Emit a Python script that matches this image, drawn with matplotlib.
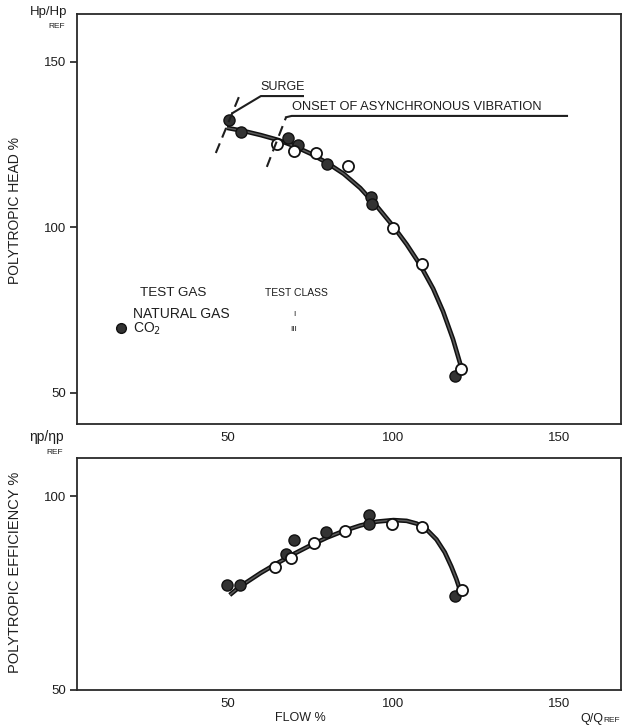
import matplotlib
matplotlib.use("Agg")
import matplotlib.pyplot as plt

plt.rcParams['font.family'] = ['Liberation Sans', 'DejaVu Sans']

# ---------------- data ----------------
x_ticks = [50, 100, 150]
head_ticks = [50, 100, 150]
eff_ticks = [50, 100]

# polytropic head: fitted curve
head_curve_flow = [49.7, 55, 60, 65, 70, 75, 80, 85, 90, 95, 100, 104, 108, 112, 115, 118, 120.7]
head_curve_val = [130.1, 129.1, 127.9, 126.5, 124.6, 122.3, 119.5, 116.2, 111.9, 106.4,
                  100.3, 94.9, 88.8, 81.5, 74.6, 66.2, 57.0]
# CO2 (filled)
head_co2_flow = [50.3, 53.9, 68.1, 71.1, 79.9, 93.2, 93.5, 118.6]
head_co2_val = [132.5, 128.9, 127.0, 124.9, 119.2, 109.2, 107.1, 55.1]
# natural gas (open)
head_ng_flow = [64.8, 69.9, 76.6, 86.3, 100.0, 108.5, 120.4]
head_ng_val = [125.2, 123.1, 122.5, 118.6, 99.8, 89.0, 57.3]

# polytropic efficiency: fitted curve
eff_curve_flow = [50.6, 53.6, 60, 65, 70, 75, 80, 85, 90, 95, 100, 104, 107, 110, 113,
                  115.5, 117.5, 119, 120.1]
eff_curve_val = [74.5, 76.6, 80.2, 82.7, 85.1, 87.3, 89.3, 91.0, 92.4, 93.4, 93.8, 93.6,
                 92.9, 91.4, 88.8, 85.5, 81.8, 78.6, 75.8]
eff_co2_flow = [49.7, 53.6, 67.5, 69.9, 79.6, 92.6, 92.6, 118.6]
eff_co2_val = [77.1, 77.1, 85.0, 88.7, 90.6, 95.0, 92.8, 74.3]
eff_ng_flow = [64.4, 69.2, 76.0, 85.5, 99.5, 108.6, 120.7]
eff_ng_val = [81.7, 84.1, 87.8, 91.1, 92.8, 91.9, 75.8]

# annotation guide lines (data coords)
surge_dash_x = [46.4, 53.6]
surge_dash_y = [122.5, 140.0]
surge_lead_x = [51.5, 60.0, 72.7]
surge_lead_y = [134.6, 139.7, 139.7]
onset_dash_x = [61.8, 67.6]
onset_dash_y = [118.3, 133.3]
onset_lead_x = [67.6, 69.3, 152.4]
onset_lead_y = [133.3, 133.7, 133.7]

# ---------------- figure ----------------
W, H = 624, 726
fig = plt.figure(figsize=(W / 100, H / 100), dpi=100)
fig.patch.set_facecolor('white')

def ax_rect(l, t, r, b):
    return [l / W, 1 - b / H, (r - l) / W, (b - t) / H]

def px(x, y):
    return x / W, 1 - y / H

ax1 = fig.add_axes(ax_rect(77, 14, 621, 424))
ax2 = fig.add_axes(ax_rect(77, 458, 621, 690))

ink = '#1e1e1e'
for ax in (ax1, ax2):
    ax.set_xlim(4.5, 168.7)
    for s in ax.spines.values():
        s.set_color('#2a2a2a')
        s.set_linewidth(1.3)
    ax.set_xticks(x_ticks)
    ax.tick_params(axis='x', length=0, pad=6, labelsize=9.5, colors=ink)
    ax.tick_params(axis='y', length=5, width=1.2, direction='out', pad=3,
                   labelsize=9.5, colors=ink)

ax1.set_ylim(40.6, 164.5)
ax1.set_yticks(head_ticks)
ax2.set_ylim(50, 109.8)
ax2.set_yticks(eff_ticks)

ms = 8.0
def draw(ax, cx, cy, fx, fy, ox, oy):
    ax.plot(cx, cy, color='#111111', lw=3.3, solid_capstyle='butt',
            solid_joinstyle='round', zorder=2)
    ax.plot(cx, cy, color='#5a5a5a', lw=1.1, solid_capstyle='butt',
            solid_joinstyle='round', zorder=2.1)
    ax.plot(fx, fy, 'o', ms=ms, mfc='#333333', mec='#111111', mew=1.0, zorder=3)
    ax.plot(ox, oy, 'o', ms=ms, mfc='white', mec='#111111', mew=1.3, zorder=4)

draw(ax1, head_curve_flow, head_curve_val, head_co2_flow, head_co2_val, head_ng_flow, head_ng_val)
draw(ax2, eff_curve_flow, eff_curve_val, eff_co2_flow, eff_co2_val, eff_ng_flow, eff_ng_val)

# annotations
ax1.plot(surge_dash_x, surge_dash_y, color=ink, lw=1.5, ls=(0, (5, 3)), zorder=5)
ax1.plot(surge_lead_x, surge_lead_y, color=ink, lw=1.5, zorder=5)
ax1.plot(onset_dash_x, onset_dash_y, color=ink, lw=1.5, ls=(0, (5, 3)), zorder=5)
ax1.plot(onset_lead_x, onset_lead_y, color=ink, lw=1.5, zorder=5)
ax1.text(surge_lead_x[1], surge_lead_y[1] + 0.8, 'SURGE', fontsize=9, color=ink,
         ha='left', va='bottom')
ax1.text(onset_lead_x[1], onset_lead_y[1] + 0.8, 'ONSET OF ASYNCHRONOUS VIBRATION',
         fontsize=9.3, color=ink, ha='left', va='bottom')

# legend block
fig.text(*px(140, 293), 'TEST GAS', fontsize=9.7, color=ink, ha='left', va='center')
fig.text(*px(265, 293), 'TEST CLASS', fontsize=7.5, color=ink, ha='left', va='center')
fig.text(*px(133, 314), 'NATURAL GAS', fontsize=10, color=ink, ha='left', va='center')
fig.text(*px(294, 314), 'I', fontsize=6, color=ink, ha='center', va='center')
fig.text(*px(133, 329), 'CO$_2$', fontsize=10, color=ink, ha='left', va='center')
fig.text(*px(294, 329), 'III', fontsize=6, color=ink, ha='center', va='center')
ax1.plot([px(121, 328)[0]], [px(121, 328)[1]], 'o', ms=7, mfc='#333333', mec='#111111',
         transform=fig.transFigure, clip_on=False)

# axis titles
fig.text(*px(67, 12), 'Hp/Hp', fontsize=9.5, color=ink, ha='right', va='center')
fig.text(*px(57, 26), 'REF', fontsize=6, color=ink, ha='center', va='center')
fig.text(*px(15, 210), 'POLYTROPIC HEAD %', fontsize=10, color=ink, rotation=90,
         ha='center', va='center')
fig.text(*px(64, 437), '\u03b7p/\u03b7p', fontsize=10, color=ink, ha='right', va='center')
fig.text(*px(55, 452), 'REF', fontsize=6, color=ink, ha='center', va='center')
fig.text(*px(15, 572), 'POLYTROPIC EFFICIENCY %', fontsize=10.5, color=ink, rotation=90,
         ha='center', va='center')
fig.text(*px(300, 718), 'FLOW %', fontsize=9, color=ink, ha='center', va='center')
fig.text(*px(580, 719), 'Q/Q', fontsize=9, color=ink, ha='left', va='center')
fig.text(*px(603, 720), 'REF', fontsize=6, color=ink, ha='left', va='center')

fig.savefig('out.png', dpi=100, facecolor='white')
